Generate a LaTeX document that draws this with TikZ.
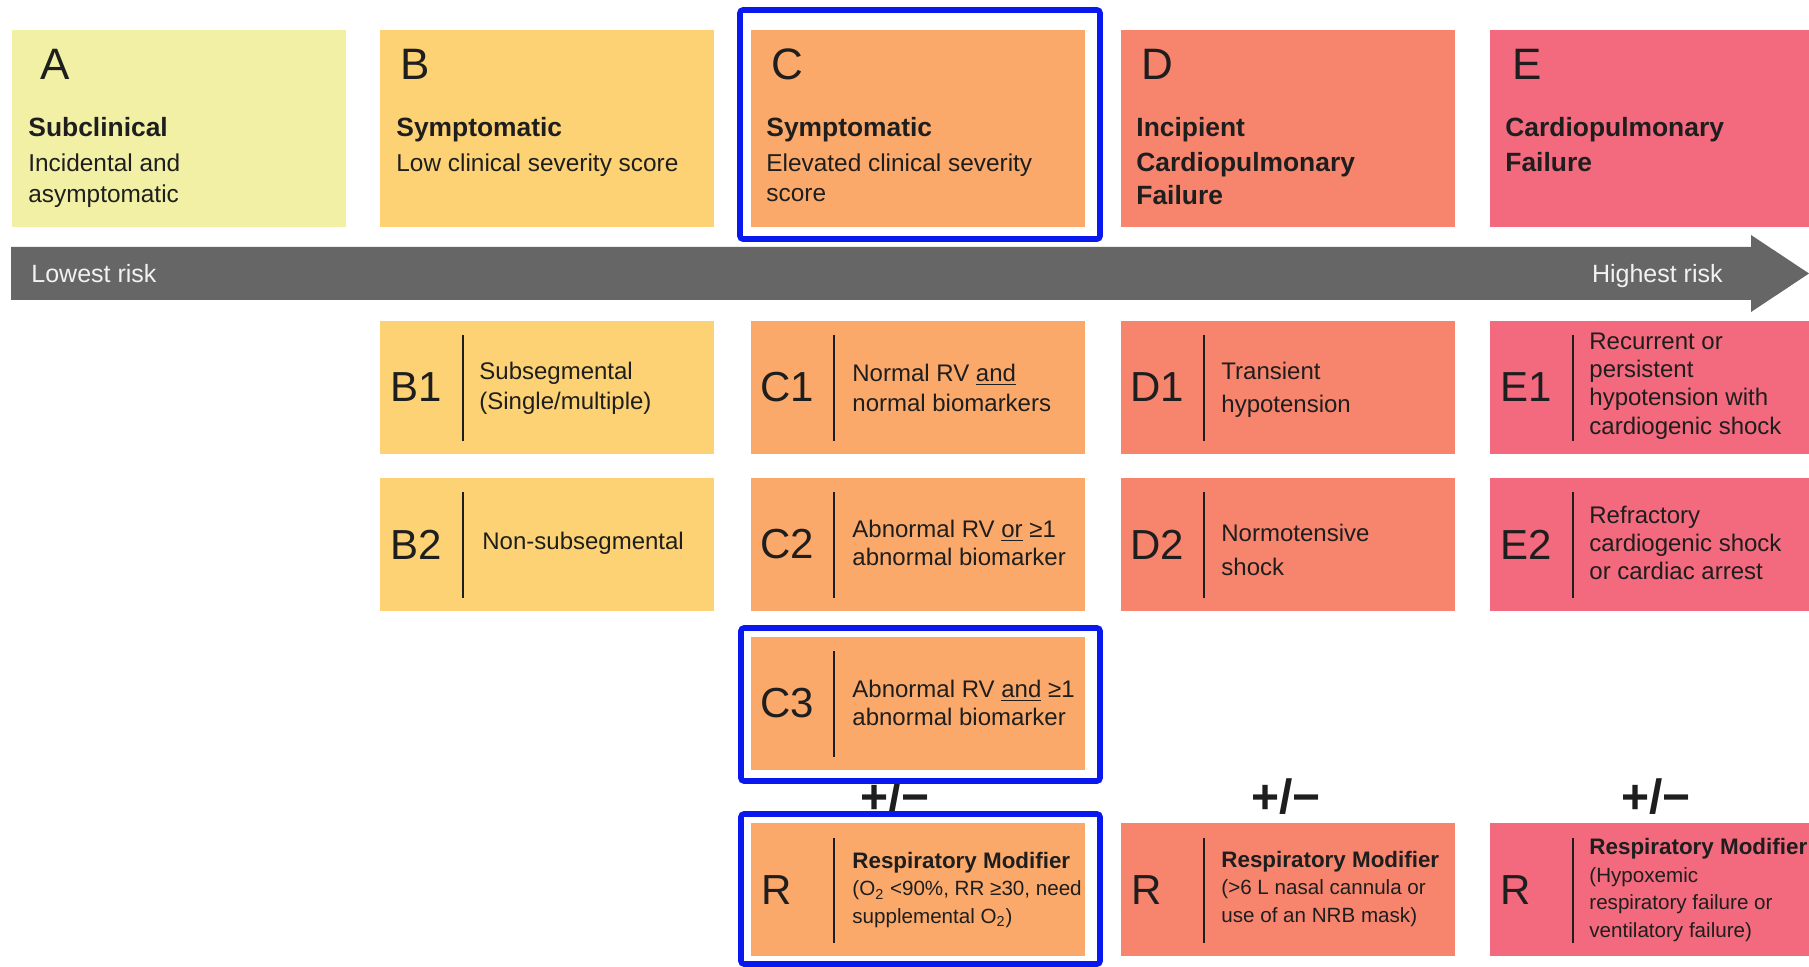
\documentclass[tikz,border=0pt]{standalone}
\usepackage{fontspec}
\setmainfont{Liberation Sans}
\definecolor{colA}{RGB}{241,240,164}
\definecolor{colB}{RGB}{253,210,117}
\definecolor{colC}{RGB}{251,169,106}
\definecolor{colD}{RGB}{247,133,110}
\definecolor{colE}{RGB}{243,105,125}
\definecolor{ink}{RGB}{30,30,30}
\definecolor{hl}{RGB}{10,24,240}
\definecolor{arrowgray}{RGB}{102,102,102}
\definecolor{risktext}{RGB}{242,242,242}
\newcommand{\cellbox}[5]{%
  \node[subcellbox, fill=#4] (#1) at (#2,#3) {};
  \node[sublab] (#1l) at (#2+36, #3+66.5) {#5};
  \draw[divider] (#2+83, #3+14) -- (#2+83, #3+120);
}
\newcommand{\rcellbox}[4]{%
  \node[subcellbox, fill=#4] (#1) at (#2,#3) {};
  \node[sublab, anchor=west] (#1l) at (#2+10, #3+67) {R};
  \draw[divider] (#2+83, #3+15) -- (#2+83, #3+120);
}
\begin{document}
\begin{tikzpicture}[x=0.5pt, y=-0.5pt,
  cell/.style={rectangle, inner sep=0pt, anchor=north west, minimum width=167pt, draw=none},
  topcell/.style={cell, minimum height=98.5pt},
  subcellbox/.style={cell, minimum height=66.5pt},
  bigletter/.style={anchor=base west, inner sep=0pt, font=\fontsize{22}{26}\selectfont, text=ink},
  title/.style={anchor=base west, inner sep=0pt, font=\bfseries\fontsize{13.2}{16}\selectfont, text=ink},
  body/.style={anchor=base west, inner sep=0pt, font=\fontsize{12.2}{15}\selectfont, text=ink},
  sublab/.style={inner sep=0pt, font=\fontsize{21}{25}\selectfont, text=ink},
  subtxt/.style={anchor=west, inner sep=0pt, align=left, text=ink},
  divider/.style={line width=1.3pt, draw=ink},
  highlight/.style={draw=hl, line width=2.8pt, rounded corners=1.5pt},
  pm/.style={font=\bfseries\fontsize{24}{28}\selectfont, text=ink, inner sep=0pt},
  risk/.style={font=\fontsize{12.5}{15}\selectfont, text=risktext, inner sep=0pt},
]
\useasboundingbox (0,0) rectangle (1809,967);
\clip (0,0) rectangle (1809,967);
\fill[white] (0,0) rectangle (1809,967);

% top category boxes
\node[topcell, fill=colA] (A) at (12,30) {};
\node[topcell, fill=colB] (B) at (380,30) {};
\node[topcell, fill=colC] (C) at (751,30) {};
\node[topcell, fill=colD] (D) at (1121,30) {};
\node[topcell, fill=colE] (E) at (1490,30) {};

\node[bigletter] (Al) at (40,80) {A};
\node[title] (At) at (28,137) {Subclinical};
\node[body] (Ab1) at (28,172) {Incidental and};
\node[body] (Ab2) at (28,203) {asymptomatic};

\node[bigletter] (Bl) at (400,80) {B};
\node[title] (Bt) at (396,137) {Symptomatic};
\node[body] (Bb1) at (396,172) {Low clinical severity score};

\node[bigletter] (Cl) at (771,80) {C};
\node[title] (Ct) at (766,137) {Symptomatic};
\node[body] (Cb1) at (766,172) {Elevated clinical severity};
\node[body] (Cb2) at (766,202) {score};

\node[bigletter] (Dl) at (1141,80) {D};
\node[title] (Dt1) at (1136,137) {Incipient};
\node[title] (Dt2) at (1136,172) {Cardiopulmonary};
\node[title] (Dt3) at (1136,205) {Failure};

\node[bigletter] (El) at (1512,80) {E};
\node[title] (Et1) at (1505,137) {Cardiopulmonary};
\node[title] (Et2) at (1505,172) {Failure};

% risk arrow
\fill[arrowgray] (11,247) -- (1751,247) -- (1751,235) -- (1809,273.5)
  -- (1751,312) -- (1751,300) -- (11,300) -- cycle;
\node[risk, anchor=base west] (low) at (31,283) {Lowest risk};
\node[risk, anchor=base east] (high) at (1723,283) {Highest risk};

% sub cells
\cellbox{B1}{380}{321}{colB}{B1}
\cellbox{B2}{380}{478}{colB}{B2}
\cellbox{C1}{751}{321}{colC}{C1}
\cellbox{C2}{751}{478}{colC}{C2}
\cellbox{C3}{751}{637}{colC}{C3}
\cellbox{D1}{1121}{321}{colD}{D1}
\cellbox{D2}{1121}{478}{colD}{D2}
\cellbox{E1}{1490}{321}{colE}{E1}
\cellbox{E2}{1490}{478}{colE}{E2}
\rcellbox{CR}{751}{823}{colC}
\rcellbox{DR}{1121}{823}{colD}
\rcellbox{ER}{1490}{823}{colE}

\node[subtxt, font=\fontsize{12}{15}\selectfont] (B1t) at (479,388) {Subsegmental\\(Single/multiple)};
\node[subtxt, font=\fontsize{12}{15}\selectfont] (B2t) at (482,543) {Non-subsegmental};
\node[subtxt, font=\fontsize{12}{15}\selectfont] (C1t) at (852,388) {Normal RV \underline{and}\\normal biomarkers};
\node[subtxt, font=\fontsize{12}{14}\selectfont] (C2t) at (852,543) {Abnormal RV \underline{or} ≥1\\abnormal biomarker};
\node[subtxt, font=\fontsize{12}{14}\selectfont] (C3t) at (852,703) {Abnormal RV \underline{and} ≥1\\abnormal biomarker};
\node[subtxt, font=\fontsize{12}{16.5}\selectfont] (D1t) at (1221,390) {Transient\\hypotension};
\node[subtxt, font=\fontsize{12}{17}\selectfont] (D2t) at (1221,550) {Normotensive\\shock};
\node[subtxt, font=\fontsize{12}{14.2}\selectfont] (E1t) at (1589,386) {Recurrent or\\persistent\\hypotension with\\cardiogenic shock};
\node[subtxt, font=\fontsize{12}{14.2}\selectfont] (E2t) at (1589,543) {Refractory\\cardiogenic shock\\or cardiac arrest};

\node[subtxt, font=\fontsize{10.3}{13.8}\selectfont] (CRt) at (852,890) {{\bfseries\fontsize{11.2}{13.8}\selectfont Respiratory Modifier}\\(O\textsubscript{2} <90\%, RR ≥30, need\\supplemental O\textsubscript{2})};
\node[subtxt, font=\fontsize{10.3}{13.8}\selectfont] (DRt) at (1221,889) {{\bfseries\fontsize{11.2}{13.8}\selectfont Respiratory Modifier}\\(>6 L nasal cannula or\\use of an NRB mask)};
\node[subtxt, font=\fontsize{10.3}{13.8}\selectfont] (ERt) at (1589,890) {{\bfseries\fontsize{11.2}{13.8}\selectfont Respiratory Modifier}\\(Hypoxemic\\respiratory failure or\\ventilatory failure)};

% +/- signs
\node[pm] (pmC) at (895,797) {+/−};
\node[pm] (pmD) at (1286,797) {+/−};
\node[pm] (pmE) at (1656,797) {+/−};

% highlights
\draw[highlight] (740,10) rectangle (1100,239);
\draw[highlight] (741,628) rectangle (1100,781);
\draw[highlight] (741,814) rectangle (1100,964);
\end{tikzpicture}
\end{document}
